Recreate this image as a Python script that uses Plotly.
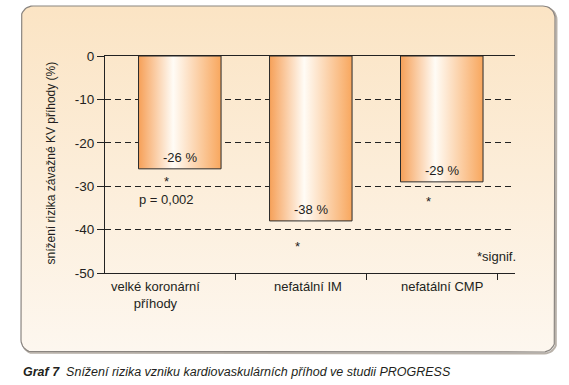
import numpy as np
import plotly.graph_objects as go

# ---------------- data ----------------
categories = ["velké koronární<br>příhody", "nefatální IM", "nefatální CMP"]
values = [-26, -38, -29]
value_labels = ["-26 %", "-38 %", "-29 %"]
signif_marks = ["*", "*", "*"]
star_y = [-29.0, -43.8, -33.6]
y_ticks = [0, -10, -20, -30, -40, -50]
y_tick_labels = ["0", "-10", "-20", "-30", "-40", "-50"]
p_text = "p = 0,002"
p_y = -33.0
note_text = "*signif."
note_y = -46.3
y_title = "snížení rizika závažné KV příhody (%)"
caption_bold = "Graf 7"
caption_text = "Snížení rizika vzniku kardiovaskulárních příhod ve studii PROGRESS"

# ---------------- styling ----------------
W, H = 569, 385
FONT = "Liberation Sans, Arial, Helvetica, sans-serif"
TXT = "#231f20"
PLOT_L, PLOT_R, PLOT_T, PLOT_B = 105, 515, 56, 273
X_RANGE = [-0.496, 2.634]
BAR_W = 0.63
BAR_DX = 0.075
STAR_DX = -0.03
LABEL_DX = [-0.11, 0.05, 0.08]

fig = go.Figure()

# --- background panel (pixel coordinates on subplot xy) ---
def rounded_rect(x0, y0, x1, y1, r, n=10):
    xs, ys = [], []
    corners = [
        (x1 - r, y0 + r, -90, 0),
        (x1 - r, y1 - r, 0, 90),
        (x0 + r, y1 - r, 90, 180),
        (x0 + r, y0 + r, 180, 270),
    ]
    for cx, cy, a0, a1 in corners:
        for a in np.linspace(np.radians(a0), np.radians(a1), n):
            xs.append(cx + r * np.cos(a))
            ys.append(cy + r * np.sin(a))
    xs.append(xs[0]); ys.append(ys[0])
    return xs, ys

sx, sy = rounded_rect(22.5, 7.5, 556.5, 353.5, 12)
fig.add_trace(go.Scatter(x=sx, y=sy, mode="lines", line=dict(color="#b9b2aa", width=2),
                         hoverinfo="skip", showlegend=False, xaxis="x", yaxis="y"))
px_, py_ = rounded_rect(21, 6, 555, 352, 12)
fig.add_trace(go.Scatter(
    x=px_, y=py_, mode="lines", fill="toself",
    fillgradient=dict(type="vertical", colorscale=[[0, "#fdf7ef"], [1, "#fbe4c4"]]),
    line=dict(color="#8a8580", width=1.2),
    hoverinfo="skip", showlegend=False, xaxis="x", yaxis="y"))

# --- bars as gradient-filled shapes on subplot x2y2 ---
for i, v in enumerate(values):
    x0 = i + BAR_DX - BAR_W / 2
    x1 = i + BAR_DX + BAR_W / 2
    fig.add_trace(go.Scatter(
        x=[x0, x0, x1, x1, x0], y=[0, v, v, 0, 0],
        mode="lines", fill="toself",
        fillgradient=dict(type="horizontal",
                          colorscale=[[0, "#f6a058"], [0.42, "#fffcf6"], [1, "#f8a75e"]]),
        line=dict(color="#2b2b2b", width=1),
        hoverinfo="skip", showlegend=False, xaxis="x2", yaxis="y2"))

annotations = []
for i, v in enumerate(values):
    annotations.append(dict(x=i + BAR_DX, y=v, xref="x2", yref="y2", text=value_labels[i],
                            showarrow=False, yshift=11, font=dict(size=13, color=TXT, family=FONT)))
    annotations.append(dict(x=i + STAR_DX, y=star_y[i], xref="x2", yref="y2", text=signif_marks[i],
                            showarrow=False, font=dict(size=13, color=TXT, family=FONT)))
    annotations.append(dict(x=i + LABEL_DX[i], y=0, xref="x2", yref="y2 domain", text=categories[i],
                            showarrow=False, yanchor="top", yshift=-4,
                            font=dict(size=13, color=TXT, family=FONT)))

annotations.append(dict(x=STAR_DX, y=p_y, xref="x2", yref="y2", text=p_text, showarrow=False,
                        font=dict(size=13, color=TXT, family=FONT)))
annotations.append(dict(x=1, y=note_y, xref="x2 domain", yref="y2", text=note_text, showarrow=False,
                        xanchor="right", xshift=3, font=dict(size=13, color=TXT, family=FONT)))
annotations.append(dict(x=50, y=163.5, xref="x", yref="y", text=y_title, textangle=-90,
                        showarrow=False, font=dict(size=12, color=TXT, family=FONT)))
annotations.append(dict(x=21, y=372, xref="x", yref="y", xanchor="left",
                        text=f"<b><i>{caption_bold}</i></b>&nbsp;&nbsp;<i>{caption_text}</i>",
                        showarrow=False, font=dict(size=12.5, color=TXT, family=FONT)))

fig.update_layout(
    width=W, height=H,
    margin=dict(l=0, r=0, t=0, b=0, pad=0, autoexpand=False),
    paper_bgcolor="white", plot_bgcolor="rgba(0,0,0,0)",
    showlegend=False,
    font=dict(family=FONT, color=TXT),
    xaxis=dict(domain=[0, 1], range=[0, W], visible=False, fixedrange=True),
    yaxis=dict(domain=[0, 1], range=[H, 0], visible=False, fixedrange=True),
    xaxis2=dict(domain=[PLOT_L / W, PLOT_R / W], range=X_RANGE, anchor="y2",
                showline=True, linecolor="#222", linewidth=1.2, mirror=True,
                showgrid=False, zeroline=False, automargin=False,
                tickvals=[-0.5, 0.5, 1.5, 2.5], ticktext=["", "", "", ""],
                ticks="outside", ticklen=6, tickcolor="#222", tickwidth=1),
    yaxis2=dict(domain=[1 - PLOT_B / H, 1 - PLOT_T / H], range=[-50, 0], anchor="x2",
                showline=True, linecolor="#222", linewidth=1.2, automargin=False,
                tickvals=y_ticks, ticktext=y_tick_labels,
                ticks="outside", ticklen=7, tickcolor="#222", tickwidth=1,
                tickfont=dict(size=13.5, color=TXT, family=FONT),
                showgrid=True, gridcolor="#222", gridwidth=1, griddash="6px,4px",
                zeroline=False),
    annotations=annotations,
)

fig.write_html("out.html", config={"displayModeBar": False},
               post_script="document.body.style.margin='0';")
